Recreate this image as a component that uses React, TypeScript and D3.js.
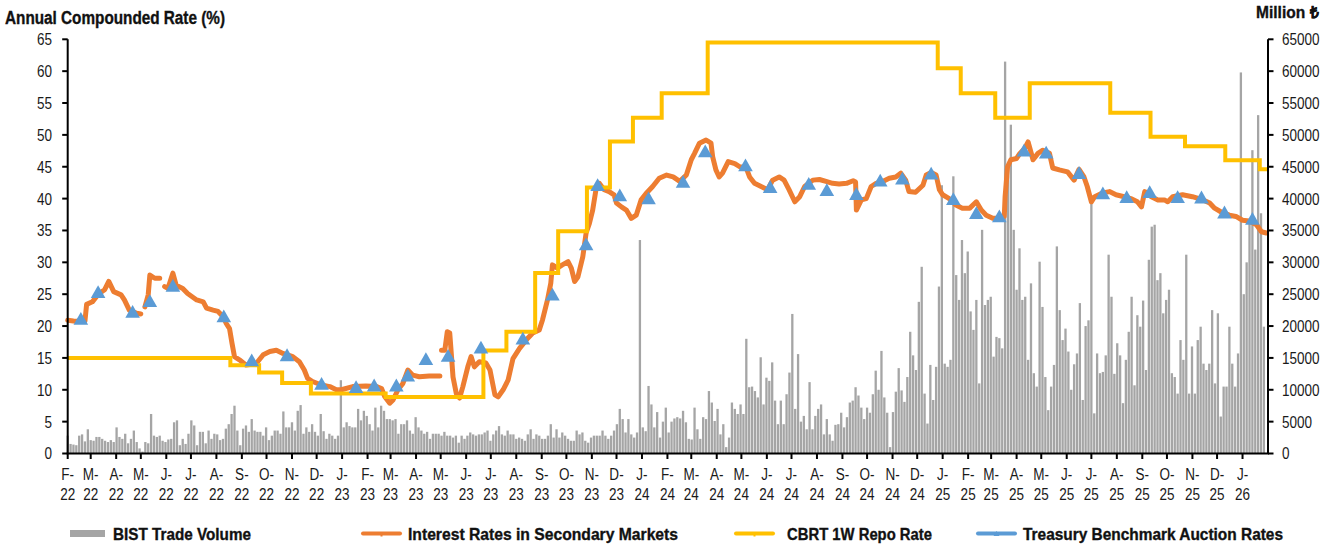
import React from 'react';
import * as d3 from 'd3';

const WIDTH = 1334;
const HEIGHT = 546;
const PLOT = { left: 67.7, right: 1268, top: 39.3, bottom: 453.5 };
const FONT = "'Liberation Sans', Arial, Helvetica, sans-serif";
const NARROW = 0.82;

const COLORS = {
  volume: '#A5A5A5',
  secondary: '#ED7D31',
  repo: '#FFC000',
  auction: '#5B9BD5',
};

const startDate = '2022-02-01';
const endDate = '2026-02-01';

const rateTicks = [0, 5, 10, 15, 20, 25, 30, 35, 40, 45, 50, 55, 60, 65];
const volumeTicks = [0, 5000, 10000, 15000, 20000, 25000, 30000, 35000, 40000, 45000, 50000, 55000, 60000, 65000];

// CBRT one-week repo rate, annual compounded (%), effective from each date
const repoDates = [
  '2022-02-01', '2022-08-18', '2022-09-22', '2022-10-20', '2022-11-24', '2023-02-23',
  '2023-06-22', '2023-07-20', '2023-08-24', '2023-09-21', '2023-10-26', '2023-11-23',
  '2023-12-21', '2024-01-25', '2024-03-21', '2024-12-26', '2025-01-23', '2025-03-06',
  '2025-04-17', '2025-07-24', '2025-09-11', '2025-10-23', '2025-12-11', '2026-01-22',
];
const repoRates = [
  15.0, 13.86, 12.73, 11.06, 9.41, 8.86,
  16.16, 19.09, 28.33, 34.87, 41.74, 48.96,
  52.7, 56.53, 64.48, 60.45, 56.53, 52.7,
  58.09, 53.46, 49.7, 48.22, 46.03, 44.59,
];

// Treasury benchmark auction results (%)
const auctionDates = [
  '2022-02-17', '2022-03-10', '2022-04-21', '2022-05-12', '2022-06-09', '2022-08-10',
  '2022-09-13', '2022-10-26', '2022-12-07', '2023-01-18', '2023-02-09', '2023-03-08',
  '2023-03-22', '2023-04-13', '2023-05-10', '2023-06-19', '2023-08-09', '2023-09-14',
  '2023-10-25', '2023-11-08', '2023-12-05', '2024-01-09', '2024-02-20', '2024-03-18',
  '2024-05-06', '2024-06-05', '2024-07-22', '2024-08-13', '2024-09-18', '2024-10-17',
  '2024-11-13', '2024-12-18', '2025-01-14', '2025-02-11', '2025-03-11', '2025-04-10',
  '2025-05-07', '2025-06-16', '2025-07-15', '2025-08-13', '2025-09-10', '2025-10-14',
  '2025-11-12', '2025-12-10', '2026-01-13',
];
const auctionRates = [
  21.2, 25.4, 22.3, 24.0, 26.4, 21.6,
  14.7, 15.5, 11.0, 10.5, 10.75, 10.75,
  12.3, 14.9, 15.4, 16.7, 18.1, 25.0,
  32.9, 42.2, 40.6, 40.1, 42.7, 47.5,
  45.3, 41.9, 42.4, 41.4, 40.8, 42.9,
  43.2, 44.0, 40.0, 37.8, 37.3, 47.6,
  47.3, 44.1, 40.9, 40.3, 41.1, 40.3,
  40.25, 37.9, 36.9,
];

// Secondary market benchmark yield (%); null marks a break in the series
const secondaryRates: [string, number | null][] = [
  ['2022-02-01', 20.9], ['2022-02-08', 20.8], ['2022-02-17', 20.7], ['2022-02-22', 20.8], ['2022-02-24', 23.4],
  ['2022-03-03', 23.8], ['2022-03-11', 25.1], ['2022-03-18', 25.7], ['2022-03-23', 27.0], ['2022-03-29', 25.4],
  ['2022-04-07', 24.9], ['2022-04-11', 24.1], ['2022-04-17', 22.5], ['2022-04-26', 22.0], ['2022-05-01', 21.9],
  ['2022-05-03', null], ['2022-05-06', 23.0], ['2022-05-10', 24.9], ['2022-05-12', 28.0], ['2022-05-18', 27.5],
  ['2022-05-24', 27.5], ['2022-05-27', null], ['2022-05-30', 26.2], ['2022-06-03', 25.9], ['2022-06-07', 27.5],
  ['2022-06-09', 28.3], ['2022-06-13', 26.4], ['2022-06-21', 25.9], ['2022-06-27', 25.1], ['2022-07-08', 24.1],
  ['2022-07-16', 23.8], ['2022-07-20', 22.8], ['2022-07-28', 22.5], ['2022-08-03', 22.3], ['2022-08-09', 21.5],
  ['2022-08-13', 20.4], ['2022-08-17', 19.6], ['2022-08-20', 17.3], ['2022-08-23', 15.2], ['2022-08-29', 14.7],
  ['2022-09-06', 13.9], ['2022-09-13', 14.0], ['2022-09-19', 14.2], ['2022-09-27', 15.5], ['2022-10-05', 16.0],
  ['2022-10-13', 16.2], ['2022-10-21', 15.7], ['2022-11-02', 15.2], ['2022-11-10', 14.4], ['2022-11-16', 13.1],
  ['2022-11-20', 11.8], ['2022-11-26', 11.3], ['2022-12-07', 10.75], ['2022-12-17', 10.5], ['2022-12-25', 10.0],
  ['2022-12-31', 10.0], ['2023-01-14', 10.5], ['2023-01-30', 10.6], ['2023-02-12', 10.5], ['2023-02-18', 10.2],
  ['2023-02-22', 8.9], ['2023-02-28', 7.9], ['2023-03-04', 8.4], ['2023-03-10', 10.0], ['2023-03-16', 11.0],
  ['2023-03-22', 13.1], ['2023-03-28', 12.3], ['2023-04-05', 12.05], ['2023-04-17', 12.15], ['2023-04-30', 12.15],
  ['2023-05-01', null], ['2023-05-02', 16.2], ['2023-05-06', 16.2], ['2023-05-09', 19.1], ['2023-05-12', 18.9],
  ['2023-05-14', 15.5], ['2023-05-16', 12.0], ['2023-05-20', 9.4], ['2023-05-24', 8.7], ['2023-05-28', 10.5],
  ['2023-06-03', 13.6], ['2023-06-07', 15.2], ['2023-06-11', 13.6], ['2023-06-17', 14.4], ['2023-06-25', 14.2],
  ['2023-06-30', 13.1], ['2023-07-06', 9.2], ['2023-07-10', 8.9], ['2023-07-16', 10.0], ['2023-07-22', 11.5],
  ['2023-07-28', 14.9], ['2023-08-05', 16.5], ['2023-08-13', 17.8], ['2023-08-21', 18.9], ['2023-08-29', 19.4],
  ['2023-09-02', 21.0], ['2023-09-08', 24.1], ['2023-09-12', 26.7], ['2023-09-14', 29.6], ['2023-09-20', 29.1],
  ['2023-09-26', 29.6], ['2023-10-03', 30.1], ['2023-10-07', 29.1], ['2023-10-11', 27.0], ['2023-10-15', 27.7],
  ['2023-10-21', 30.9], ['2023-10-25', 34.6], ['2023-10-29', 36.1], ['2023-11-02', 38.2], ['2023-11-06', 41.4],
  ['2023-11-10', 42.4], ['2023-11-16', 41.4], ['2023-11-22', 41.1], ['2023-11-28', 40.6], ['2023-12-01', 39.3],
  ['2023-12-07', 38.7], ['2023-12-13', 38.2], ['2023-12-19', 36.9], ['2023-12-25', 37.4], ['2023-12-31', 39.8],
  ['2024-01-06', 40.8], ['2024-01-14', 41.9], ['2024-01-22', 43.2], ['2024-01-31', 43.7], ['2024-02-08', 43.4],
  ['2024-02-16', 42.7], ['2024-02-24', 43.7], ['2024-03-01', 46.1], ['2024-03-05', 47.1], ['2024-03-11', 48.7],
  ['2024-03-19', 49.2], ['2024-03-25', 48.7], ['2024-03-27', 46.6], ['2024-03-31', 44.5], ['2024-04-04', 43.4],
  ['2024-04-08', 44.0], ['2024-04-15', 45.8], ['2024-04-23', 45.5], ['2024-04-29', 45.0], ['2024-05-07', 44.8],
  ['2024-05-11', 43.4], ['2024-05-17', 42.4], ['2024-05-25', 41.9], ['2024-06-02', 41.4], ['2024-06-08', 42.9],
  ['2024-06-16', 43.4], ['2024-06-22', 42.9], ['2024-06-28', 41.4], ['2024-07-05', 39.5], ['2024-07-11', 40.3],
  ['2024-07-17', 41.9], ['2024-07-27', 42.9], ['2024-08-04', 43.0], ['2024-08-12', 42.7], ['2024-08-20', 42.4],
  ['2024-08-28', 42.3], ['2024-09-06', 42.4], ['2024-09-14', 42.8], ['2024-09-17', 42.6], ['2024-09-18', 38.2],
  ['2024-09-24', 39.8], ['2024-09-30', 40.0], ['2024-10-06', 41.9], ['2024-10-12', 42.4], ['2024-10-20', 42.7],
  ['2024-10-28', 43.2], ['2024-11-05', 43.4], ['2024-11-11', 44.0], ['2024-11-17', 42.9], ['2024-11-21', 41.1],
  ['2024-11-29', 41.0], ['2024-12-08', 42.1], ['2024-12-12', 43.7], ['2024-12-18', 44.1], ['2024-12-24', 43.7],
  ['2024-12-28', 41.4], ['2025-01-01', 40.6], ['2025-01-09', 40.0], ['2025-01-17', 39.0], ['2025-01-25', 38.5],
  ['2025-02-03', 38.5], ['2025-02-11', 39.5], ['2025-02-17', 38.2], ['2025-02-23', 37.4], ['2025-03-03', 36.9],
  ['2025-03-11', 36.9], ['2025-03-17', 37.2], ['2025-03-18', 40.3], ['2025-03-21', 45.0], ['2025-03-25', 46.1],
  ['2025-04-01', 46.3], ['2025-04-05', 47.1], ['2025-04-11', 47.9], ['2025-04-15', 48.9], ['2025-04-21', 46.1],
  ['2025-04-27', 47.1], ['2025-05-03', 47.6], ['2025-05-11', 47.1], ['2025-05-15', 44.8], ['2025-05-23', 44.5],
  ['2025-06-02', 44.2], ['2025-06-10', 42.9], ['2025-06-16', 44.6], ['2025-06-22', 43.4], ['2025-06-26', 41.9],
  ['2025-07-01', 39.5], ['2025-07-05', 40.3], ['2025-07-15', 40.9], ['2025-07-23', 41.1], ['2025-07-31', 40.6],
  ['2025-08-10', 40.3], ['2025-08-18', 40.0], ['2025-08-26', 39.5], ['2025-08-31', 38.7], ['2025-09-04', 41.1],
  ['2025-09-12', 40.3], ['2025-09-20', 39.8], ['2025-09-28', 39.8], ['2025-10-02', 39.5], ['2025-10-08', 40.3],
  ['2025-10-20', 40.6], ['2025-11-01', 40.3], ['2025-11-14', 39.8], ['2025-11-22', 39.3], ['2025-11-28', 38.5],
  ['2025-12-06', 37.9], ['2025-12-16', 37.4], ['2025-12-24', 37.2], ['2026-01-01', 36.6], ['2026-01-09', 36.5],
  ['2026-01-18', 35.9], ['2026-01-24', 34.8], ['2026-01-30', 34.6],
];

// BIST trade volume (million TL), one bar every half week starting 2022-02-01
const volumeStepDays = 3.5;
const volume2022 = [
  2800, 1500, 1400, 1300, 2800, 3000, 1900, 3800, 2100, 2000, 2600, 2600, 2300, 2000, 1800, 2100, 1800, 4100, 2600, 2300,
  3100, 1600, 2300, 3600, 1800, 800, 300, 1800, 1600, 6200, 2800, 2600, 2800, 2000, 1800, 2200, 2300, 4900, 5200, 1300,
  2300, 1500, 3100, 5200, 4400, 1300, 3400, 3400, 1600, 3600, 2300, 3100, 3000, 2100, 2300, 3900, 4600, 6200, 7500, 3600,
  1300, 3900, 4400, 3400, 5400, 3600, 3400, 3400, 2800, 4100, 2100, 2800, 3600, 3600, 3100, 6600, 4100, 4100, 4900, 3600,
  6700, 7600, 3100, 4100, 3400, 4600, 3400, 2800, 6200, 3500, 2300, 3100, 2800, 2300, 2800,
];
const volume2023 = [
  11500, 4100, 4900, 4300, 4100, 4100, 7000, 5200, 6700, 5900, 4600, 3600, 7200, 4100, 7500, 6700, 5400, 5400, 5200, 5400,
  3100, 4600, 4600, 5200, 3600, 3100, 5700, 4100, 3600, 3100, 3400, 2300, 3100, 3100, 3100, 2800, 3400, 2800, 2800, 2500,
  2800, 1700, 2800, 2300, 2800, 3300, 3000, 2800, 3000, 3000, 3300, 3600, 2000, 3000, 3600, 4300, 3000, 2800, 3600, 3000,
  3000, 2300, 2500, 2300, 2000, 3000, 3800, 2300, 3000, 2800, 2300, 2300, 2800, 4600, 2500, 3800, 2500, 3300, 2800, 2300,
  2000, 2000, 3600, 3000, 3300, 2000, 1700, 2500, 2800, 2800, 2800, 3600, 2800, 2300, 2800, 3600, 4600, 7000, 5400, 3300,
  5400, 3000, 2500, 3300,
];
const volume2024 = [
  33500, 4100, 3500, 10600, 7700, 4100, 6500, 2500, 5000, 7200, 3300, 5000, 5500, 5700, 5500, 6700, 4900, 2300, 2200, 7200,
  3800, 2300, 5700, 5400, 9800, 8000, 5100, 7000, 3000, 4600, 1000, 2500, 8000, 7000, 6200, 7700, 6200, 18000, 10400, 10500,
  9800, 8800, 15100, 7700, 11900, 11400, 14300, 8300, 4600, 8300, 4600, 9300, 12700, 21900, 7000, 15600, 5000, 5900, 3800, 11200,
  3800, 5900, 7000, 7700, 3000, 5400, 3000, 2000, 4500, 4600, 6400, 4100, 5700, 8000, 8300, 10400, 9100, 7200, 5400, 7200,
  6400, 9300, 13000, 10000, 16100, 8800, 6400, 1000, 6500, 9700, 13400, 9900, 8100, 12000, 19100, 15400, 13100, 23800, 29300, 9400,
  4700, 13900, 8400, 13600, 26200,
];
const volume2025 = [
  42100, 14100, 13600, 14700, 43500, 28000, 24100, 33500, 28300, 31700, 22300, 19400, 24100, 11000, 35100, 23300, 24100, 24600, 15200, 18300,
  18100, 16500, 61500, 43500, 51600, 35100, 25700, 32200, 24100, 24600, 14700, 26700, 12600, 10500, 30100, 23000, 12000, 6800, 10500, 13900,
  32500, 22500, 17800, 19600, 16000, 10000, 14000, 15700, 23600, 8400, 20000, 20900, 39800, 6300, 15700, 12600, 12800, 15400, 31200, 24600,
  12500, 17300, 15400, 7900, 14700, 19100, 24600, 10700, 21700, 19900, 24000, 13100, 30400, 35600, 35900, 27200, 28300, 22000, 24100, 25700,
  12600, 12000, 9400, 17800, 14700, 31200, 9400, 16800, 9400, 17800, 19900, 14100, 13100, 14100, 22500, 11000, 22000, 5800, 10500, 10500,
  19900, 14100, 10500, 15700, 59800, 25000, 30000, 36600, 47600, 32000, 53100, 37700, 19900,
];

const legendItems = [
  { key: 'volume', label: 'BIST Trade Volume', x: 70, textX: 113, textW: 138 },
  { key: 'secondary', label: 'Interest Rates in Secondary Markets', x: 363, textX: 408, textW: 270 },
  { key: 'repo', label: 'CBRT 1W Repo Rate', x: 736, textX: 787, textW: 145 },
  { key: 'auction', label: 'Treasury Benchmark Auction Rates', x: 978, textX: 1023, textW: 260 },
];

const parseDate = d3.utcParse('%Y-%m-%d');
const monthLetter = d3.utcFormat('%b');
const yearShort = d3.utcFormat('%y');

function trianglePath(cx: number, cy: number, hw: number, hh: number) {
  return `M${cx},${cy - hh}L${cx + hw},${cy + hh}L${cx - hw},${cy + hh}Z`;
}

// Horizontally condensed text for tick labels
function NarrowText(props: {
  x: number;
  y: number;
  anchor?: 'start' | 'middle' | 'end';
  size?: number;
  children: React.ReactNode;
}) {
  const { x, y, anchor = 'start', size = 16.5, children } = props;
  return (
    <text
      transform={`translate(${x},${y}) scale(${NARROW},1)`}
      textAnchor={anchor}
      fontSize={size}
      fill="#1a1a1a"
    >
      {children}
    </text>
  );
}

// Bold condensed heading text fitted to a given width
function HeadText(props: { x: number; y: number; size: number; width: number; children: React.ReactNode }) {
  const { x, y, size, width, children } = props;
  return (
    <text
      x={x}
      y={y}
      fontSize={size}
      fontWeight="bold"
      fill="#111"
      stroke="#111"
      strokeWidth={0.35}
      textLength={width}
      lengthAdjust="spacingAndGlyphs"
    >
      {children}
    </text>
  );
}

export default function App() {
  const t0 = parseDate(startDate) as Date;
  const t1 = parseDate(endDate) as Date;

  const x = d3.scaleUtc().domain([t0, t1]).range([PLOT.left, PLOT.right]);
  const yRate = d3.scaleLinear().domain([0, 65]).range([PLOT.bottom, PLOT.top]);
  const yVol = d3.scaleLinear().domain([0, 65000]).range([PLOT.bottom, PLOT.top]);

  const months = d3.utcMonth.range(t0, t1);

  const volumes = [...volume2022, ...volume2023, ...volume2024, ...volume2025];
  const bars = volumes.map((v, k) => ({
    date: new Date(t0.getTime() + k * volumeStepDays * 864e5),
    value: v,
  }));
  const barW = 2.3;

  const secondary = secondaryRates.map(([d, v]) => ({ date: parseDate(d) as Date, value: v }));
  const secondaryLine = d3
    .line<{ date: Date; value: number | null }>()
    .defined((d) => d.value !== null)
    .x((d) => x(d.date))
    .y((d) => yRate(d.value as number));

  const repo = repoDates.map((d, i) => ({ date: parseDate(d) as Date, value: repoRates[i] }));
  repo.push({ date: t1, value: repoRates[repoRates.length - 1] });
  const repoLine = d3
    .line<{ date: Date; value: number }>()
    .curve(d3.curveStepAfter)
    .x((d) => x(d.date))
    .y((d) => yRate(d.value));

  const auctions = auctionDates.map((d, i) => ({ date: parseDate(d) as Date, value: auctionRates[i] }));

  const legendY = 533.5;

  return (
    <svg
      width={WIDTH}
      height={HEIGHT}
      style={{ position: 'absolute', left: 0, top: 0, background: '#fff' }}
      fontFamily={FONT}
    >
      <rect width={WIDTH} height={HEIGHT} fill="#fff" />

      {/* volume bars on the right-hand scale */}
      <g fill={COLORS.volume}>
        {bars.map((b, i) => (
          <rect
            key={i}
            x={x(b.date) - barW / 2}
            y={yVol(b.value)}
            width={barW}
            height={yVol(0) - yVol(b.value)}
          />
        ))}
      </g>

      {/* secondary market yields */}
      <path
        d={secondaryLine(secondary) || ''}
        fill="none"
        stroke={COLORS.secondary}
        strokeWidth={5}
        strokeLinejoin="round"
        strokeLinecap="round"
      />

      {/* policy rate */}
      <path d={repoLine(repo) || ''} fill="none" stroke={COLORS.repo} strokeWidth={4} strokeLinejoin="miter" />

      {/* auction results */}
      <g fill={COLORS.auction}>
        {auctions.map((a, i) => (
          <path key={i} d={trianglePath(x(a.date), yRate(a.value), 7.3, 6.4)} />
        ))}
      </g>

      {/* left axis */}
      <g>
        <line x1={PLOT.left} x2={PLOT.left} y1={PLOT.top} y2={PLOT.bottom} stroke="#000" strokeWidth={2} />
        {rateTicks.map((t) => (
          <g key={t}>
            <line x1={PLOT.left - 5.5} x2={PLOT.left} y1={yRate(t)} y2={yRate(t)} stroke="#000" strokeWidth={2} />
            <NarrowText x={52} y={yRate(t) + 5.9} anchor="end">
              {t}
            </NarrowText>
          </g>
        ))}
      </g>

      {/* right axis */}
      <g>
        <line x1={PLOT.right} x2={PLOT.right} y1={PLOT.top} y2={PLOT.bottom} stroke="#000" strokeWidth={2} />
        {volumeTicks.map((t) => (
          <g key={t}>
            <line x1={PLOT.right} x2={PLOT.right + 5.5} y1={yVol(t)} y2={yVol(t)} stroke="#000" strokeWidth={2} />
            <NarrowText x={1282} y={yVol(t) + 5.9} anchor="start">
              {t}
            </NarrowText>
          </g>
        ))}
      </g>

      {/* bottom axis */}
      <g>
        <line x1={PLOT.left - 1} x2={PLOT.right + 1} y1={PLOT.bottom} y2={PLOT.bottom} stroke="#000" strokeWidth={2.2} />
        {months.map((m, i) => (
          <g key={i}>
            <line x1={x(m)} x2={x(m)} y1={PLOT.bottom} y2={PLOT.bottom + 5.5} stroke="#000" strokeWidth={2} />
            <NarrowText x={x(m)} y={479.5} anchor="middle">
              {monthLetter(m)[0] + '-'}
            </NarrowText>
            <NarrowText x={x(m)} y={500} anchor="middle">
              {yearShort(m)}
            </NarrowText>
          </g>
        ))}
      </g>

      {/* axis titles */}
      <HeadText x={5} y={24} size={17.5} width={220}>
        Annual Compounded Rate (%)
      </HeadText>
      <HeadText x={1256} y={17.5} size={16.5} width={62}>
        Million ₺
      </HeadText>

      {/* legend */}
      <g>
        {legendItems.map((item) => {
          const color = COLORS[item.key as keyof typeof COLORS];
          const lx = item.x;
          return (
            <g key={item.key}>
              {item.key === 'volume' ? (
                <rect x={lx} y={legendY - 3.5} width={35} height={7} fill={color} />
              ) : (
                <>
                  <line
                    x1={lx}
                    x2={lx + 37}
                    y1={legendY}
                    y2={legendY}
                    stroke={color}
                    strokeWidth={4}
                    strokeLinecap="round"
                  />
                  {item.key === 'auction' ? (
                    <path d={trianglePath(lx + 18.5, legendY, 3, 2.6)} fill={color} />
                  ) : (
                    <rect x={lx + 17.5} y={legendY - 1} width={2} height={4} fill={color} />
                  )}
                </>
              )}
              <HeadText x={item.textX} y={legendY + 6} size={16.5} width={item.textW}>
                {item.label}
              </HeadText>
            </g>
          );
        })}
      </g>
    </svg>
  );
}
